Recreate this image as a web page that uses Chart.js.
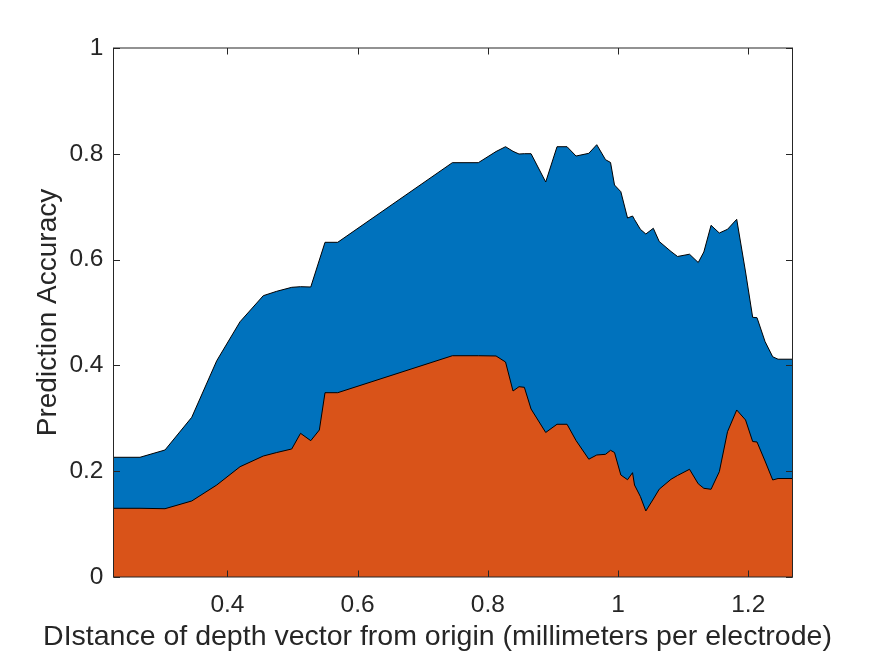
<!DOCTYPE html>
<html>
<head>
<meta charset="utf-8">
<title>Prediction Accuracy</title>
<script src="https://cdn.jsdelivr.net/npm/chart.js@4.4.1/dist/chart.umd.min.js"></script>
<style>
  body { margin: 0; background: #fff; }
</style>
</head>
<body>
<canvas id="myChart" width="875" height="657"></canvas>
<script>
// distance of depth vector from origin (mm per electrode)
var distance = [0.2250, 0.2657, 0.3041, 0.3452, 0.3836, 0.4194, 0.4551, 0.4757, 0.4988, 0.5123,
    0.5280, 0.5412, 0.5499, 0.5694, 0.7455, 0.7854, 0.8126, 0.8272, 0.8387, 0.8479,
    0.8561, 0.8664, 0.8889, 0.9063, 0.9217, 0.9355, 0.9551, 0.9673, 0.9808, 0.9885,
    0.9946, 1.0043, 1.0146, 1.0223, 1.0253, 1.0343, 1.0427, 1.0542, 1.0633, 1.0814,
    1.0914, 1.1098, 1.1232, 1.1318, 1.1429, 1.1556, 1.1682, 1.1823, 1.1959, 1.2068,
    1.2135, 1.2258, 1.2376, 1.2458, 1.2680];

// upper (blue) area, top edge
var upper = [0.2263, 0.2263, 0.2401, 0.3019, 0.4089, 0.4826, 0.5318, 0.5401, 0.5476, 0.5488,
    0.5482, 0.5992, 0.6327, 0.6327, 0.7832, 0.7832, 0.8043, 0.8134, 0.8047, 0.7996,
    0.8002, 0.8002, 0.7467, 0.8134, 0.8134, 0.7958, 0.8009, 0.8172, 0.7889, 0.7836,
    0.7410, 0.7284, 0.6786, 0.6824, 0.6758, 0.6573, 0.6484, 0.6592, 0.6342, 0.6153,
    0.6059, 0.6102, 0.5945, 0.6144, 0.6648, 0.6503, 0.6573, 0.6762, 0.5766, 0.4909,
    0.4902, 0.4452, 0.4163, 0.4117, 0.4117];

// lower (orange) area
var lower = [0.1299, 0.1299, 0.1291, 0.1437, 0.1739, 0.2085, 0.2287, 0.2353, 0.2420, 0.2716,
    0.2577, 0.2779, 0.3484, 0.3484, 0.4183, 0.4183, 0.4178, 0.4064, 0.3516, 0.3597,
    0.3586, 0.3176, 0.2732, 0.2887, 0.2887, 0.2580, 0.2227, 0.2306, 0.2319, 0.2395,
    0.2353, 0.1928, 0.1839, 0.1972, 0.1739, 0.1522, 0.1248, 0.1474, 0.1660, 0.1847,
    0.1919, 0.2036, 0.1762, 0.1677, 0.1658, 0.1991, 0.2747, 0.3157, 0.2968, 0.2561,
    0.2552, 0.2193, 0.1834, 0.1862, 0.1862];

var xTicks = [0.4, 0.6, 0.8, 1, 1.2];
var xTickLabels = ['0.4', '0.6', '0.8', '1', '1.2'];
var yTicks = [0, 0.2, 0.4, 0.6, 0.8, 1];
var yTickLabels = ['0', '0.2', '0.4', '0.6', '0.8', '1'];

var axisColor = '#262626';
var fontFamily = '"Liberation Sans", Arial, Helvetica, sans-serif';

function points(ys) {
    return distance.map(function (x, i) { return {x: x, y: ys[i]}; });
}

// box round the plot with small inward ticks on all four sides (matlab style)
var boxPlugin = {
    id: 'box',
    afterDraw: function (chart) {
        var ctx = chart.ctx;
        var a = chart.chartArea;
        var xs = chart.scales.x, ys = chart.scales.y;
        var len = 6.5;
        ctx.save();
        ctx.strokeStyle = axisColor;
        ctx.lineWidth = 1;
        ctx.beginPath();
        xTicks.forEach(function (v) {
            var px = Math.round(xs.getPixelForValue(v)) + 0.5;
            ctx.moveTo(px, a.bottom); ctx.lineTo(px, a.bottom - len);
            ctx.moveTo(px, a.top); ctx.lineTo(px, a.top + len);
        });
        yTicks.forEach(function (v) {
            var py = Math.round(ys.getPixelForValue(v)) + 0.5;
            ctx.moveTo(a.left, py); ctx.lineTo(a.left + len, py);
            ctx.moveTo(a.right, py); ctx.lineTo(a.right - len, py);
        });
        ctx.stroke();
        ctx.strokeRect(a.left, a.top, a.right - a.left, a.bottom - a.top);
        ctx.restore();
    }
};

var ctx = document.getElementById('myChart').getContext('2d');
var myChart = new Chart(ctx, {
    type: 'line',
    data: {
        datasets: [{
            label: 'lower',
            data: points(lower),
            backgroundColor: '#D95319',
            borderColor: '#000000',
            borderWidth: 1,
            pointRadius: 0,
            tension: 0,
            fill: 'origin'
        }, {
            label: 'upper',
            data: points(upper),
            backgroundColor: '#0072BD',
            borderColor: '#000000',
            borderWidth: 1,
            pointRadius: 0,
            tension: 0,
            fill: 'origin'
        }]
    },
    options: {
        responsive: false,
        animation: false,
        layout: {padding: {left: 0, right: 0, top: 48, bottom: 0}},
        plugins: {
            legend: {display: false},
            tooltip: {enabled: false},
            // x label is wider than the plot, so it goes in the chart title box
            title: {
                display: true,
                position: 'bottom',
                text: 'DIstance of depth vector from origin (millimeters per electrode)',
                color: axisColor,
                padding: {top: 0, bottom: 3},
                font: {family: fontFamily, size: 28.5, weight: 'normal'}
            }
        },
        scales: {
            x: {
                type: 'linear',
                min: 0.225,
                max: 1.268,
                border: {display: false},
                grid: {display: false, drawTicks: false},
                afterBuildTicks: function (scale) {
                    scale.ticks = xTicks.map(function (v) { return {value: v}; });
                },
                afterFit: function (scale) { scale.height = 42.8; },
                ticks: {
                    color: axisColor,
                    padding: 14,
                    maxRotation: 0,
                    autoSkip: false,
                    font: {family: fontFamily, size: 24.5},
                    callback: function (v, i) { return xTickLabels[i]; }
                }
            },
            y: {
                min: 0,
                max: 1,
                border: {display: false},
                grid: {display: false, drawTicks: false},
                afterBuildTicks: function (scale) {
                    scale.ticks = yTicks.map(function (v) { return {value: v}; });
                },
                afterFit: function (scale) { scale.width = 113.5; },
                ticks: {
                    color: axisColor,
                    padding: 10,
                    font: {family: fontFamily, size: 24.5},
                    callback: function (v, i) { return yTickLabels[i]; }
                },
                title: {
                    display: true,
                    text: 'Prediction Accuracy',
                    color: axisColor,
                    padding: {top: 31.2, bottom: 0},
                    font: {family: fontFamily, size: 28}
                }
            },
            // empty right axis, only keeps the white margin on the right
            yRight: {
                position: 'right',
                min: 0,
                max: 1,
                border: {display: false},
                grid: {display: false, drawTicks: false},
                ticks: {display: false},
                afterFit: function (scale) { scale.width = 82.5; }
            }
        }
    },
    plugins: [boxPlugin]
});
</script>
</body>
</html>
